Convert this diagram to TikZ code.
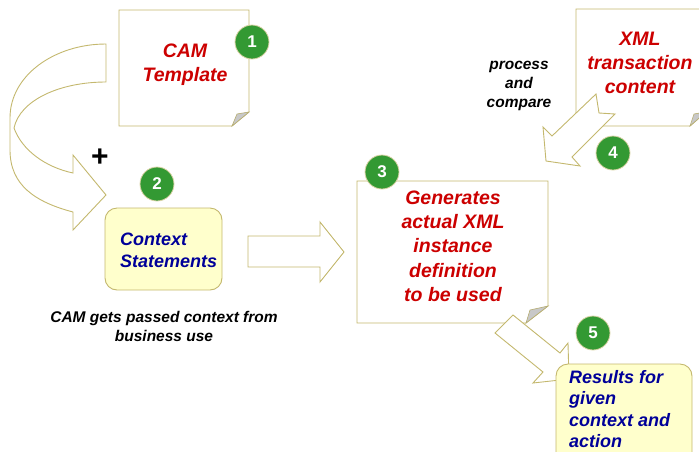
\documentclass[tikz,border=0pt]{standalone}
\usepackage{fontspec}
\setmainfont{Liberation Sans}
\definecolor{edge}{RGB}{196,184,110}
\definecolor{noteyel}{RGB}{255,255,204}
\definecolor{badgegreen}{RGB}{51,153,51}
\definecolor{camred}{RGB}{204,0,0}
\definecolor{camblue}{RGB}{0,0,153}
\definecolor{foldgray}{RGB}{200,200,200}
\tikzset{
  shapeline/.style={draw=edge, line width=0.9pt, fill=white, line join=miter},
  yelbox/.style={draw=edge, line width=0.9pt, fill=noteyel, rounded corners=12pt},
  foldtri/.style={draw=edge!80!gray, fill=foldgray, line width=0.6pt},
  badge/.style={circle, fill=badgegreen, draw=edge!60!white, line width=0.8pt, minimum size=34pt, inner sep=0pt, text=white, font=\fontsize{17}{17}\selectfont\bfseries},
  redtxt/.style={text=camred, font=\fontsize{19.5}{24.3}\selectfont\bfseries\itshape, align=center, inner sep=0pt},
  bluetxt/.style={text=camblue, font=\fontsize{18}{22}\selectfont\bfseries\itshape, align=left, inner sep=0pt},
  blktxt/.style={text=black, font=\fontsize{15.5}{19}\selectfont\bfseries\itshape, align=center, inner sep=0pt}
}
\begin{document}
\begin{tikzpicture}[x=1pt,y=-1pt]
\useasboundingbox (0,0) rectangle (699,451);
\begin{scope}
\clip (0,0) rectangle (699,451);
% curved arrow
\draw[shapeline] (106,44) -- (106,82) .. controls (60,82) and (20,100) .. (14,128)
  .. controls (22,150) and (45,167) .. (73,173) -- (73,155) -- (106,195) -- (73,230) -- (73,212)
  .. controls (35,202) and (10,185) .. (10,150) -- (10,118) .. controls (10,75) and (55,44) .. (106,44) -- cycle;
% note 1
\draw[shapeline] (119,10) -- (249,10) -- (249,112) -- (232,126) -- (119,126) -- cycle;
\draw[foldtri] (232,126) -- (249,112) -- (237,114) -- cycle;
% context box
\draw[yelbox] (105,208) rectangle (222,290);
% right arrow
\draw[shapeline] (248,236) -- (320,236) -- (320,222) -- (344,252) -- (320,282) -- (320,267) -- (248,267) -- cycle;
% note 3
\draw[shapeline] (357,181) -- (548,181) -- (548,306) -- (526,323) -- (357,323) -- cycle;
\draw[foldtri] (526,323) -- (548,306) -- (530,310) -- cycle;
% note 4
\draw[shapeline] (576,9) -- (706,9) -- (706,112) -- (690,126) -- (576,126) -- cycle;
\draw[foldtri] (690,126) -- (706,112) -- (694,114) -- cycle;
% arrow 4
\draw[shapeline] (596,94) -- (599,113) -- (615,114) -- (572,157) -- (580,166) -- (546,161) -- (543,127) -- (552,136) -- cycle;
% arrow 5
\draw[shapeline] (513,315) -- (560,353) -- (568,343) -- (569,379) -- (533,383) -- (543,372) -- (495,333) -- cycle;
% results box
\draw[yelbox] (556,364) rectangle (692,475);
\end{scope}
% badges
\node[badge] (b1) at (252,42) {1};
\node[badge] (b2) at (157,184) {2};
\node[badge] (b3) at (382,172) {3};
\node[badge] (b4) at (613,153) {4};
\node[badge] (b5) at (593,333) {5};
% texts
\node[font=\fontsize{30}{30}\selectfont\bfseries] (plus) at (100,158) {+};
\node[redtxt] (camt) at (185,64.5) {CAM\\Template};
\node[redtxt] (gen) at (453,246) {Generates\\actual XML\\instance\\definition\\to be used};
\node[redtxt] (xml) at (640,63) {XML\\transaction\\content};
\node[bluetxt, anchor=west] (ctx) at (120,250) {Context\\Statements};
\node[bluetxt, font=\fontsize{18}{21.5}\selectfont\bfseries\itshape, anchor=north west] (res) at (569,370) {Results for\\given\\context and\\action};
\node[blktxt] (pc) at (519,86) {process\\and\\compare};
\node[blktxt] (cap) at (164,326) {CAM gets passed context from\\business use};
\end{tikzpicture}
\end{document}
